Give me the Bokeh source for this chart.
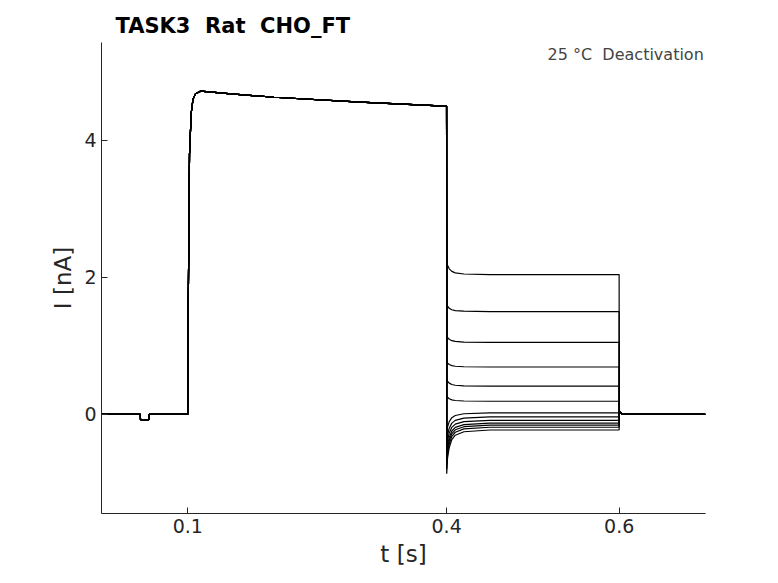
from bokeh.plotting import figure
from bokeh.models import Range1d, FixedTicker, Label
from bokeh.embed import file_html
from bokeh.resources import INLINE

x_ticks = [0.1, 0.4, 0.6]
y_ticks = [0, 2, 4]
# activation phase (shared by all sweeps): time, current
act_t = [0.0, 0.045, 0.0452, 0.055, 0.0552, 0.1, 0.1005, 0.102, 0.104, 0.106, 0.109, 0.115, 0.15, 0.2, 0.3, 0.398, 0.3999]
act_i = [0.0, 0.0, -0.08, -0.08, 0.0, 0.0, 1.5, 3.8, 4.4, 4.6, 4.68, 4.72, 4.68, 4.63, 4.56, 4.5, 4.5]
# deactivation tail: initial value after step and settled level
tail_start = [2.25, 1.62, 1.16, 0.78, 0.52, 0.28, -0.3, -0.45, -0.55, -0.65, -0.72, -0.8, -0.87]
tail_level = [2.04, 1.50, 1.05, 0.69, 0.41, 0.19, 0.02, -0.04, -0.09, -0.13, -0.16, -0.19, -0.23]
tail_t = [0.4001, 0.401, 0.403, 0.406, 0.41, 0.42, 0.45, 0.5999]
tail_frac = [0.0, 0.35, 0.6, 0.78, 0.88, 0.96, 1.0, 1.0]
# return to holding
end_t = [0.6, 0.601, 0.603, 0.7]
end_i = [0.05, 0.03, 0.0, 0.0]

p = figure(width=770, height=575, output_backend="svg", toolbar_location=None,
           x_range=Range1d(0, 0.7), y_range=Range1d(-1.45, 5.43),
           min_border_left=101, min_border_right=65, min_border_top=42, min_border_bottom=62)
p.outline_line_color = None
p.grid.visible = False
p.background_fill_color = "white"

for s, l in zip(tail_start, tail_level):
    ts = [a for a in act_t] + tail_t + end_t
    vs = [a for a in act_i] + [s + (l - s) * f for f in tail_frac] + end_i
    p.line(ts, vs, line_color="black", line_width=1.2)

for ax in (p.xaxis, p.yaxis):
    ax.major_tick_in = 6
    ax.major_tick_out = 0
    ax.minor_tick_line_color = None
    ax.major_label_text_font = "DejaVu Sans"
    ax.major_label_text_font_size = "19px"
    ax.major_label_text_color = "#262626"
    ax.axis_label_text_font = "DejaVu Sans"
    ax.axis_label_text_font_size = "23px"
    ax.axis_label_text_font_style = "normal"
    ax.axis_label_text_color = "#262626"
    ax.axis_line_color = "#262626"
    ax.major_tick_line_color = "#262626"
p.xaxis.ticker = FixedTicker(ticks=x_ticks)
p.yaxis.ticker = FixedTicker(ticks=y_ticks)
p.xaxis.axis_label = "t [s]"
p.yaxis.axis_label = "I [nA]"

p.title.text = "TASK3\u00a0\u00a0Rat\u00a0\u00a0CHO_FT"
p.title.text_font = "DejaVu Sans"
p.title.text_font_size = "21px"
p.title.text_font_style = "bold"
p.title.text_color = "black"
p.title.offset = 14

p.add_layout(Label(x=0.698, y=5.4, text="25 °C\u00a0\u00a0Deactivation",
                   text_font="DejaVu Sans", text_font_size="16px", text_align="right",
                   text_baseline="top"))
p.add_layout(Label(x=0.7205, y=1.98, text="BBP Channelpedia ID 28951 rep 1",
                   text_font="DejaVu Sans", text_font_size="12px", text_align="center", angle=1.5708,
                   text_baseline="middle"))

open("out.html", "w").write(file_html(p, INLINE))
